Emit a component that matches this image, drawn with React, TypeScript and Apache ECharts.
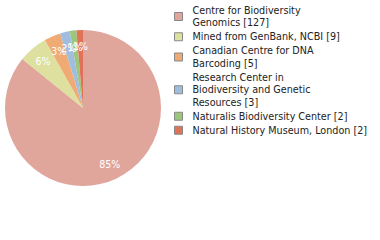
import React, { useEffect, useRef } from "react";
import * as echarts from "echarts";

const categories = [
  "Centre for Biodiversity\nGenomics [127]",
  "Mined from GenBank, NCBI [9]",
  "Canadian Centre for DNA\nBarcoding [5]",
  "Research Center in\nBiodiversity and Genetic\nResources [3]",
  "Naturalis Biodiversity Center [2]",
  "Natural History Museum, London [2]",
];
const values = [127, 9, 5, 3, 2, 2];
const colors = ["#e0a69c", "#dde09e", "#f0aa74", "#a0bde0", "#9cc67c", "#e07258"];

export default function App() {
  const ref = useRef<HTMLDivElement>(null);
  useEffect(() => {
    const chart = echarts.init(ref.current!, null, { renderer: "svg" });
    const total = values.reduce((a, b) => a + b, 0);
    const data = categories.map((name, i) => ({
      name,
      value: values[i],
      itemStyle: { color: colors[i] },
    }));
    chart.setOption({
      animation: false,
      textStyle: { fontFamily: "DejaVu Sans Condensed" },
      legend: {
        orient: "vertical",
        left: 174,
        top: 4,
        padding: 0,
        itemWidth: 8,
        itemHeight: 8,
        itemGap: 1.5,
        icon: "rect",
        itemStyle: { borderColor: "#888", borderWidth: 1 },
        textStyle: {
          fontFamily: "DejaVu Sans Condensed",
          fontSize: 10.7,
          color: "#222",
          lineHeight: 12.5,
          padding: [0, 0, 0, 5],
        },
        data: categories,
      },
      series: [
        {
          type: "pie",
          center: [83, 108],
          radius: [0, 78],
          startAngle: 90,
          clockwise: true,
          label: { show: false },
          labelLine: { show: false },
          silent: true,
          data,
        },
        {
          type: "pie",
          center: [83, 108],
          radius: [40, 78],
          startAngle: 90,
          clockwise: true,
          silent: true,
          avoidLabelOverlap: false,
          legendHoverLink: false,
          itemStyle: { color: "transparent", borderWidth: 0 },
          labelLayout: { hideOverlap: false },
          label: {
            show: true,
            position: "inside",
            color: "#fff",
            fontSize: 10.5,
            fontFamily: "DejaVu Sans Condensed",
            formatter: (p: any) => Math.floor((p.value / total) * 100) + "%",
          },
          labelLine: { show: false },
          data: categories.map((name, i) => ({ name, value: values[i] })),
        },
      ],
    });
    return () => chart.dispose();
  }, []);
  return (
    <div
      ref={ref}
      style={{ position: "absolute", left: 0, top: 0, width: 380, height: 240 }}
    />
  );
}
